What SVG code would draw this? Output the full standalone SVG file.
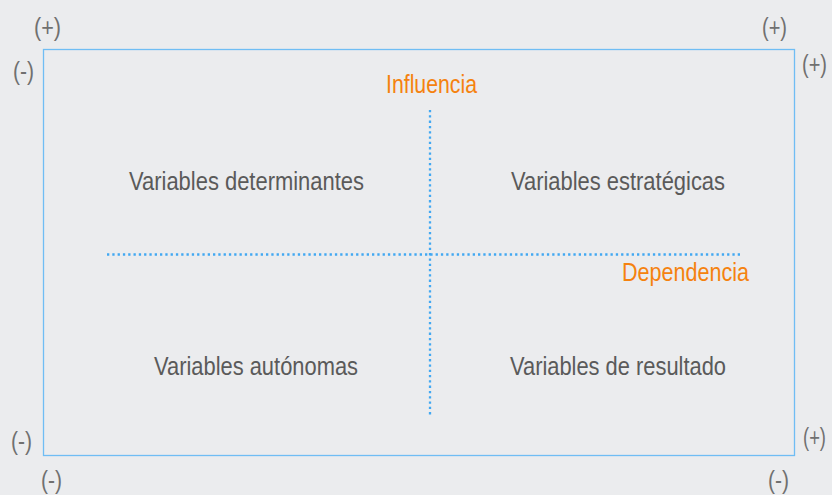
<svg xmlns="http://www.w3.org/2000/svg" width="832" height="495" viewBox="0 0 832 495">
<style>
.lbl{font-family:"Liberation Sans",Arial,sans-serif;font-size:25px;fill:#5a5a5a}
.axis{font-family:"Liberation Sans",Arial,sans-serif;font-size:25px;fill:#f5820f}
.sgn{font-family:"Liberation Sans",Arial,sans-serif;font-size:25px;fill:#707070}
.end{text-anchor:end}
.dot{stroke:#42a8f2;stroke-width:2.3;stroke-dasharray:2.3 3;fill:none}
</style>
<rect width="832" height="495" fill="#ebecee"/>
<g id="frame"><rect x="43.5" y="49.5" width="751" height="406" fill="none" stroke="#6fbdf4" stroke-width="1.3"/></g>
<g id="connectors">
<line class="dot" x1="430" y1="110" x2="430" y2="417"/>
<line class="dot" x1="107" y1="254.5" x2="741" y2="254.5"/>
</g>
<g id="n-determinantes"><text class="lbl" x="129" y="190" textLength="235" lengthAdjust="spacingAndGlyphs">Variables determinantes</text></g>
<g id="n-estrategicas"><text class="lbl" x="511" y="190" textLength="214" lengthAdjust="spacingAndGlyphs">Variables estratégicas</text></g>
<g id="n-autonomas"><text class="lbl" x="154" y="375" textLength="204" lengthAdjust="spacingAndGlyphs">Variables autónomas</text></g>
<g id="n-resultado"><text class="lbl" x="510" y="375" textLength="216" lengthAdjust="spacingAndGlyphs">Variables de resultado</text></g>
<g id="n-influencia"><text class="axis" x="386" y="93" textLength="91" lengthAdjust="spacingAndGlyphs">Influencia</text></g>
<g id="n-dependencia"><text class="axis" x="622" y="281" textLength="127" lengthAdjust="spacingAndGlyphs">Dependencia</text></g>
<g id="signs">
<text class="sgn" x="34" y="36" textLength="27" lengthAdjust="spacingAndGlyphs">(+)</text>
<text class="sgn" x="13" y="80" textLength="21" lengthAdjust="spacingAndGlyphs">(-)</text>
<text class="sgn" x="762" y="36" textLength="25" lengthAdjust="spacingAndGlyphs">(+)</text>
<text class="sgn end" x="827" y="73" textLength="25" lengthAdjust="spacingAndGlyphs">(+)</text>
<text class="sgn" x="11" y="450" textLength="21" lengthAdjust="spacingAndGlyphs">(-)</text>
<text class="sgn end" x="826" y="446" textLength="23" lengthAdjust="spacingAndGlyphs">(+)</text>
<text class="sgn" x="41" y="489" textLength="21" lengthAdjust="spacingAndGlyphs">(-)</text>
<text class="sgn" x="768" y="489" textLength="21" lengthAdjust="spacingAndGlyphs">(-)</text>
</g>
</svg>
